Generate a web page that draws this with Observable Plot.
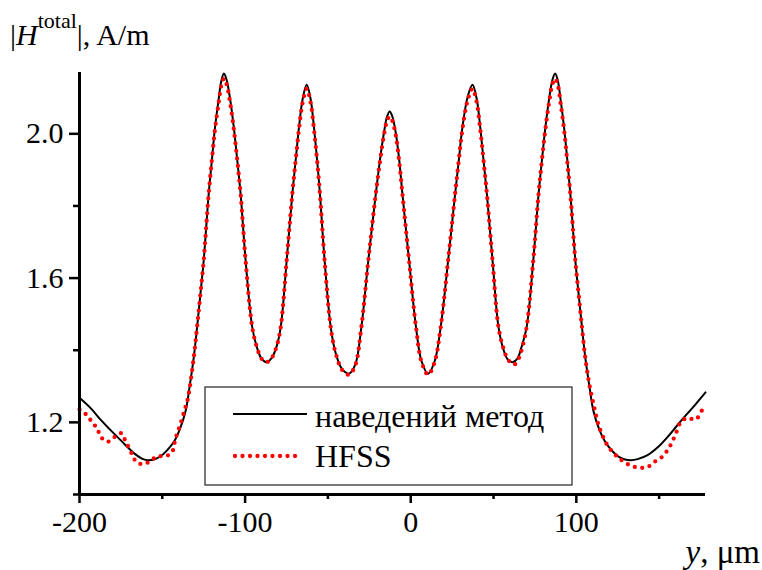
<!DOCTYPE html>
<html><head><meta charset="utf-8">
<script src="https://cdn.jsdelivr.net/npm/d3@7"></script>
<script src="https://cdn.jsdelivr.net/npm/@observablehq/plot@0.6"></script>
<style>html,body{margin:0;padding:0;background:#fff;} #chart{width:762px;height:570px;}</style>
</head><body><div id="chart"></div>
<script>
const seriesNames = ["наведений метод", "HFSS"];
const xMajorTicks = [-200, -100, 0, 100];
const xMinorTicks = [-150, -50, 50, 150];
const yMajorTicks = [1.2, 1.6, 2.0];
const yMinorTicks = [1.0, 1.4, 1.8];

const methodX = [-200,-193,-187,-182,-177,-172,-167,-162,-158.5,-155,-151,-147,-143,-139.5,-136,-133.5,-131,-129,-127,-125,-122,-120,-118.2,-116,-114.3,-112.8,-111.2,-109,-106.8,-104.7,-102.7,-99.7,-95.7,-93,-90,-87,-84,-81,-78.5,-74.9,-71.5,-69.5,-67.5,-65.2,-62.8,-60.5,-58.4,-56.5,-54.8,-52,-48.3,-45.5,-41.5,-37.3,-33.5,-29.8,-25.6,-21.1,-18.5,-16.1,-14.3,-12.7,-11.1,-9.1,-7,-5,-1,3.2,6.5,10.5,14.5,18.1,22.6,26.8,29,31.2,34.5,37.3,39.8,42,44,46,49.4,53,55.8,58.5,61.5,64.3,67,70,74,77.2,79.2,81.3,83.5,85.6,87.2,88.8,90.5,92.6,94.5,96.4,99.4,101.4,103.4,105.4,107.9,110.4,113.9,117.4,121.4,125.4,129.4,133,137,143,149,155,161,167,172,178];
const methodY = [1.268,1.238,1.206,1.182,1.159,1.136,1.114,1.099,1.095,1.097,1.106,1.123,1.146,1.180,1.230,1.300,1.380,1.464,1.555,1.649,1.833,1.930,2.017,2.095,2.148,2.167,2.150,2.095,2.017,1.925,1.833,1.649,1.464,1.410,1.376,1.367,1.378,1.410,1.464,1.649,1.833,1.925,2.017,2.098,2.136,2.098,2.017,1.925,1.833,1.649,1.464,1.395,1.348,1.335,1.360,1.464,1.649,1.833,1.930,2.005,2.048,2.062,2.048,2.005,1.930,1.833,1.649,1.464,1.370,1.335,1.370,1.464,1.649,1.833,1.925,2.017,2.105,2.136,2.098,2.017,1.925,1.833,1.649,1.464,1.405,1.375,1.367,1.376,1.410,1.464,1.649,1.833,1.925,2.017,2.095,2.150,2.167,2.148,2.095,2.017,1.930,1.833,1.649,1.555,1.464,1.380,1.300,1.230,1.180,1.146,1.122,1.105,1.097,1.095,1.098,1.109,1.130,1.159,1.192,1.224,1.250,1.283];

const hfssX = [-200,-195.8,-192,-189.3,-187.3,-183.3,-178.9,-174.8,-172.6,-168.2,-165.6,-161.5,-157.1,-153.1,-148.6,-144.4,-142,-139,-136.5,-134.6,-131,-129,-127,-125,-122,-120,-118.2,-116,-114.3,-112.8,-111.2,-109,-106.8,-104.7,-102.7,-99.7,-95.7,-93,-90,-87,-84,-81,-78.5,-74.9,-71.5,-69.5,-67.5,-65.2,-62.8,-60.5,-58.4,-56.5,-54.8,-52,-48.3,-45.5,-41.5,-37.3,-33.5,-29.8,-25.6,-21.1,-18.5,-16.1,-14.3,-12.7,-11.1,-9.1,-7,-5,-1,3.2,6.5,10.5,14.5,18.1,22.6,26.8,29,31.2,34.5,37.3,39.8,42,44,46,49.4,53,56,59,62.5,65.5,67.5,70,74,77.2,79.2,81.3,83.5,85.6,87.2,88.8,90.5,92.6,94.5,96.4,99.4,101.4,103.4,105.4,107.8,110.8,113.8,118.8,122.5,125.9,129.9,134,138.6,143,147,151.7,155.1,157.8,160.1,163.1,167.2,172.2,176.9];
const hfssY = [1.236,1.221,1.198,1.183,1.161,1.146,1.159,1.170,1.152,1.111,1.090,1.084,1.093,1.106,1.106,1.115,1.155,1.196,1.235,1.265,1.380,1.464,1.555,1.649,1.833,1.930,2.012,2.085,2.135,2.153,2.138,2.085,2.012,1.925,1.833,1.649,1.464,1.410,1.376,1.367,1.378,1.410,1.464,1.649,1.833,1.925,2.012,2.088,2.125,2.088,2.012,1.925,1.833,1.649,1.464,1.395,1.346,1.332,1.358,1.464,1.649,1.833,1.925,1.998,2.036,2.048,2.036,1.998,1.925,1.833,1.649,1.464,1.368,1.332,1.368,1.464,1.649,1.833,1.925,2.012,2.095,2.125,2.088,2.012,1.925,1.833,1.649,1.464,1.405,1.372,1.360,1.380,1.410,1.464,1.649,1.833,1.925,2.012,2.085,2.138,2.153,2.136,2.085,2.012,1.925,1.833,1.649,1.555,1.464,1.380,1.307,1.242,1.187,1.136,1.115,1.100,1.087,1.078,1.074,1.076,1.090,1.104,1.123,1.145,1.169,1.201,1.212,1.208,1.245];

const methodData = methodX.map((x, i) => ({x, y: methodY[i]}));
const hfssData = hfssX.map((x, i) => ({x, y: hfssY[i]}));

const font = "'Liberation Serif','Times New Roman',serif";

const plot = Plot.plot({
  width: 762, height: 570,
  marginLeft: 79, marginRight: 57, marginTop: 72, marginBottom: 76,
  style: {fontFamily: font, fontSize: "30px", background: "white", color: "black", overflow: "visible"},
  x: {domain: [-200, 178]},
  y: {domain: [1.0, 2.17]},
  marks: [
    Plot.axisX({ticks: xMajorTicks, tickSize: 9, tickPadding: 7, strokeWidth: 2.5, tickFormat: d => String(d), fontSize: 30, fontFamily: font, label: null}),
    Plot.axisX({ticks: xMinorTicks, tickSize: 5, strokeWidth: 2.5, tickFormat: () => "", label: null}),
    Plot.axisY({ticks: yMajorTicks, tickSize: 10, tickPadding: 6, strokeWidth: 2.5, tickFormat: d => d.toFixed(1), fontSize: 30, fontFamily: font, label: null}),
    Plot.axisY({ticks: yMinorTicks, tickSize: 6, strokeWidth: 2.5, tickFormat: () => "", label: null}),
    Plot.line(methodData, {x: "x", y: "y", curve: "catmull-rom", stroke: "black", strokeWidth: 2}),
    Plot.line(hfssData, {x: "x", y: "y", curve: "catmull-rom", stroke: "#ff0000", strokeWidth: 4.3, strokeDasharray: "0 7.5", strokeLinecap: "round"}),
    Plot.ruleX([-200], {strokeWidth: 3}),
    Plot.ruleY([1.0], {strokeWidth: 3})
  ]
});

const svg = d3.select(plot);
// y axis title
const yl = svg.append("text").attr("x", 10).attr("y", 45).attr("text-anchor", "start").attr("font-size", 30).attr("fill", "black");
yl.append("tspan").text("|");
yl.append("tspan").attr("font-style", "italic").text("H");
yl.append("tspan").attr("font-size", 22).attr("dy", -17).text("total");
yl.append("tspan").attr("dy", 17).text("|, A/m");
// x axis title
const xl = svg.append("text").attr("x", 760).attr("y", 563).attr("text-anchor", "end").attr("font-size", 33).attr("fill", "black");
xl.append("tspan").attr("font-style", "italic").text("y");
xl.append("tspan").text(", μm");

// legend
const lg = svg.append("g");
lg.append("rect").attr("x", 205).attr("y", 387).attr("width", 367).attr("height", 98)
  .attr("fill", "white").attr("stroke", "#333").attr("stroke-width", 1.3);
lg.append("line").attr("x1", 233).attr("x2", 307).attr("y1", 414).attr("y2", 414)
  .attr("stroke", "black").attr("stroke-width", 2);
lg.append("line").attr("x1", 235).attr("x2", 302).attr("y1", 456).attr("y2", 456)
  .attr("stroke", "#ff0000").attr("stroke-width", 4.3).attr("stroke-dasharray", "0 7.5").attr("stroke-linecap", "round");
lg.append("text").attr("x", 315).attr("y", 427).attr("text-anchor", "start").attr("font-size", 32).attr("fill", "black").text(seriesNames[0]);
lg.append("text").attr("x", 315).attr("y", 467).attr("text-anchor", "start").attr("font-size", 32).attr("fill", "black").text(seriesNames[1]);

svg.selectAll("text").style("font-family", font);

document.getElementById("chart").appendChild(plot);
</script>
</body></html>
